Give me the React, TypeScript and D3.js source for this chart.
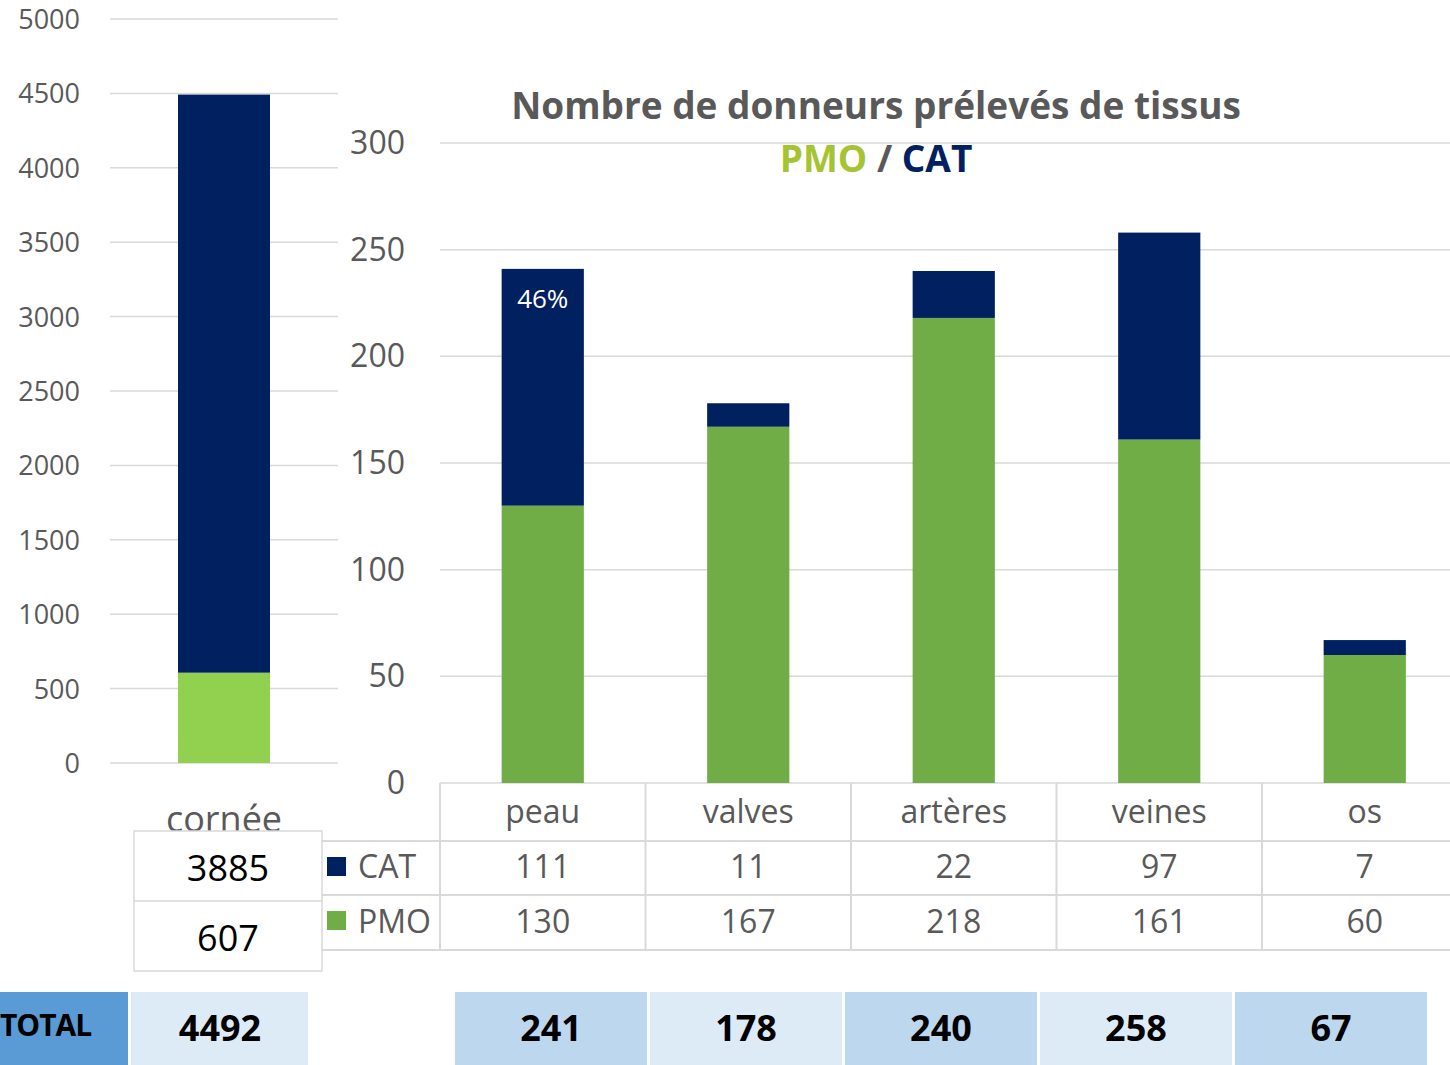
import React from 'react';
import * as d3 from 'd3';

// data
const categories = ['peau', 'valves', 'artères', 'veines', 'os'];
const catValues = [111, 11, 22, 97, 7];
const pmoValues = [130, 167, 218, 161, 60];
const totals = [241, 178, 240, 258, 67];
const corneeCat = 3885;
const corneePmo = 607;
const corneeTotal = 4492;
const leftTicks = [0, 500, 1000, 1500, 2000, 2500, 3000, 3500, 4000, 4500, 5000];
const rightTicks = [0, 50, 100, 150, 200, 250, 300];
const peauPct = '46%';

const GREY = '#595959';
const GRID = '#D9D9D9';
const NAVY = '#002060';
const GREEN = '#70AD47';
const LIGHT_GREEN = '#92D050';
const FONT = '"Open Sans", sans-serif';

const App = () => {
  // left chart (cornée)
  const yL = d3.scaleLinear().domain([0, 5000]).range([763, 19]);
  const xL = d3.scaleBand().domain(['cornée']).range([110, 338]).padding(0.425);

  // right chart
  const yR = d3.scaleLinear().domain([0, 300]).range([783, 143]);
  const xR = d3.scaleBand().domain(categories).range([440, 1467.5]).paddingInner(0.6).paddingOuter(0.3);
  const xCol = d3.scaleBand().domain(categories).range([440, 1467.5]);
  const xTot = d3.scaleBand().domain(categories).range([455, 1427]).paddingInner(0.015);

  const rows = categories.map((c, i) => ({ cat: c, PMO: pmoValues[i], CAT: catValues[i] }));
  const stacked = d3.stack().keys(['PMO', 'CAT'])(rows as any);
  const colors = { PMO: GREEN, CAT: NAVY };

  const bw = xL.bandwidth();
  const bx = xL('cornée') as number;

  return (
    <svg width={1450} height={1065} style={{ position: 'absolute', left: 0, top: 0, background: '#fff' }} fontFamily={FONT}>
      {/* left grid + axis */}
      {leftTicks.map(t => (
        <g key={t}>
          <line x1={110} x2={338} y1={yL(t)} y2={yL(t)} stroke={GRID} strokeWidth={1.5} />
          <text x={80} y={yL(t) + 10} textAnchor="end" fontSize={27} fill={GREY}>{t}</text>
        </g>
      ))}
      <rect x={bx} width={bw} y={yL(corneePmo)} height={yL(0) - yL(corneePmo)} fill={LIGHT_GREEN} />
      <rect x={bx} width={bw} y={yL(corneePmo + corneeCat)} height={yL(corneePmo) - yL(corneePmo + corneeCat)} fill={NAVY} />
      <text x={bx + bw / 2} y={832} textAnchor="middle" fontSize={36} fill={GREY}>cornée</text>

      {/* left table */}
      <rect x={134} y={831} width={188} height={140} fill="#fff" stroke={GRID} strokeWidth={1.5} />
      <line x1={134} x2={322} y1={901} y2={901} stroke={GRID} strokeWidth={1.5} />
      <text x={228} y={881} textAnchor="middle" fontSize={36} fill="#000">{corneeCat}</text>
      <text x={228} y={951} textAnchor="middle" fontSize={36} fill="#000">{corneePmo}</text>

      {/* right grid + axis */}
      {rightTicks.map(t => (
        <g key={t}>
          <line x1={440} x2={1450} y1={yR(t)} y2={yR(t)} stroke={GRID} strokeWidth={1.5} />
          <text x={405} y={yR(t) + 11} textAnchor="end" fontSize={32} fill={GREY}>{t}</text>
        </g>
      ))}

      {/* stacked bars */}
      {stacked.map(s => (
        <g key={s.key} fill={colors[s.key as 'PMO' | 'CAT']}>
          {s.map((d, i) => (
            <rect key={i} x={xR(categories[i])} width={xR.bandwidth()}
              y={yR(d[1])} height={yR(d[0]) - yR(d[1])} />
          ))}
        </g>
      ))}
      <text x={(xR('peau') as number) + xR.bandwidth() / 2} y={308} textAnchor="middle" fontSize={26} fill="#fff">{peauPct}</text>

      {/* title */}
      <text x={876} y={119} textAnchor="middle" fontSize={37} fontWeight="bold" fill={GREY}>
        Nombre de donneurs prélevés de tissus
      </text>
      <text x={876} y={172} textAnchor="middle" fontSize={37} fontWeight="bold">
        <tspan fill="#A5C431">PMO</tspan>
        <tspan fill={GREY}> / </tspan>
        <tspan fill={NAVY}>CAT</tspan>
      </text>

      {/* data table */}
      {[841, 895, 950].map(y => (
        <line key={y} x1={322} x2={1450} y1={y} y2={y} stroke={GRID} strokeWidth={2} />
      ))}
      {categories.map(c => (
        <line key={c} x1={xCol(c)} x2={xCol(c)} y1={783} y2={950} stroke={GRID} strokeWidth={2} />
      ))}
      <rect x={327} y={857} width={19} height={19} fill={NAVY} />
      <text x={358} y={878} fontSize={32} fill={GREY}>CAT</text>
      <rect x={327} y={911} width={19} height={19} fill={GREEN} />
      <text x={358} y={933} fontSize={32} fill={GREY}>PMO</text>
      {categories.map((c, i) => {
        const cx = (xCol(c) as number) + xCol.bandwidth() / 2;
        return (
          <g key={c} textAnchor="middle" fontSize={32} fill={GREY}>
            <text x={cx} y={823}>{c}</text>
            <text x={cx} y={878}>{catValues[i]}</text>
            <text x={cx} y={933}>{pmoValues[i]}</text>
          </g>
        );
      })}

      {/* totals row */}
      <rect x={0} y={992} width={128} height={73} fill="#5B9BD5" />
      <text x={0} y={1036} fontSize={30} fontWeight="bold" fill="#000" letterSpacing={-1}>TOTAL</text>
      <rect x={131} y={992} width={177} height={73} fill="#DDEBF7" />
      <text x={220} y={1041} textAnchor="middle" fontSize={36} fontWeight="bold" fill="#000">{corneeTotal}</text>
      {categories.map((c, i) => (
        <g key={c}>
          <rect x={xTot(c)} y={992} width={xTot.bandwidth()} height={73} fill={i % 2 === 0 ? '#BDD7EE' : '#DDEBF7'} />
          <text x={(xTot(c) as number) + xTot.bandwidth() / 2} y={1041} textAnchor="middle" fontSize={36} fontWeight="bold" fill="#000">{totals[i]}</text>
        </g>
      ))}
    </svg>
  );
};

export default App;
